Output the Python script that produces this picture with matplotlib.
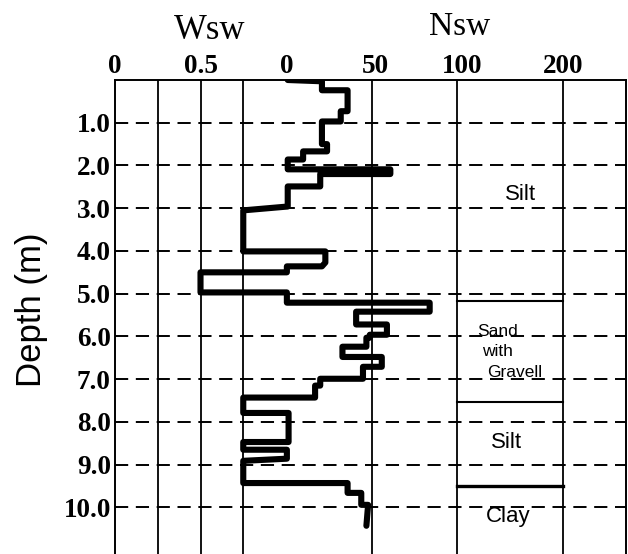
import matplotlib
matplotlib.use("Agg")
import matplotlib.pyplot as plt
import matplotlib.transforms as mtransforms

plt.rcParams["lines.scale_dashes"] = False

# sounding profile: Wsw (kN) while sinking under load, Nsw (half turns / 0.2 m) while turning
depth = [0.00, 0.03, 0.24, 0.24, 0.73, 0.73, 0.97, 0.97, 1.50, 1.50,
         1.67, 1.67, 1.86, 1.86, 2.09, 2.09, 2.20, 2.20, 2.49, 2.49,
         2.96, 3.05, 4.01, 4.01, 4.27, 4.36, 4.36, 4.50, 4.50, 4.97,
         4.97, 5.21, 5.21, 5.42, 5.42, 5.72, 5.72, 5.96, 5.96, 6.03,
         6.03, 6.24, 6.24, 6.48, 6.48, 6.71, 6.71, 6.99, 6.99, 7.15,
         7.15, 7.43, 7.43, 7.79, 7.79, 8.47, 8.47, 8.65, 8.65, 8.86,
         8.91, 9.43, 9.43, 9.66, 9.66, 9.94, 9.94, 10.43]
wsw = [1, 1, 1, 1, 1, 1, 1, 1, 1, 1,
       1, 1, 1, 1, 1, 1, 1, 1, 1, 1,
       1, 0.75, 0.75, 1, 1, 1, 1, 1, 0.5, 0.5,
       1, 1, 1, 1, 1, 1, 1, 1, 1, 1,
       1, 1, 1, 1, 1, 1, 1, 1, 1, 1,
       1, 1, 0.75, 0.75, 1, 1, 0.75, 0.75, 1, 1,
       0.75, 0.75, 1, 1, 1, 1, 1, 1]
nsw = [1, 21, 21, 36, 36, 32, 32, 21, 21, 24,
       24, 10, 10, 1, 1, 61, 61, 20, 20, 1,
       1, 0, 0, 23, 23, 21, 0.5, 0.5, 0, 0,
       0.5, 0.5, 84, 84, 41, 41, 59, 59, 49, 49,
       47, 47, 33, 33, 56, 56, 45, 45, 20, 20,
       17, 17, 0, 0, 1.5, 1.5, 0, 0, 0.5, 0.5,
       0, 0, 36, 36, 44, 44, 48, 47]

# soil column
layer_bounds = [5.18, 7.53, 9.51]
layer_names = ["Silt", "Sand", "with", "Gravell", "Silt", "Clay"]

wsw_ticks = [0, 0.5]
wsw_grid = [0.25, 0.5, 0.75]
nsw_ticks = [0, 50, 100, 200]
nsw_grid = [50, 100, 200]
depth_ticks = [1, 2, 3, 4, 5, 6, 7, 8, 9, 10]


def to_pos(w, n):
    # Wsw 0..1 takes the left part, Nsw grows to the right (compressed above 100)
    if n <= 100:
        return (w - 1) * 100 + n
    return 100 + (n - 100) * 0.62


fig = plt.figure(figsize=(6.28, 5.54), dpi=100)
ax = fig.add_axes([115 / 628, 0, 511 / 628, 474 / 554])

xpos = [to_pos(w, n) for w, n in zip(wsw, nsw)]

for w in wsw_grid:
    ax.axvline(to_pos(w, 0), color="black", lw=1.3)
for n in nsw_grid:
    ax.axvline(to_pos(1, n), color="black", lw=1.3)
for d in depth_ticks:
    ax.axhline(d, color="black", lw=1.4, linestyle=(0, (9.5, 5.5)))

ax.plot(xpos, depth, color="black", lw=4.4, solid_joinstyle="round",
        solid_capstyle="round")

x0, x1 = to_pos(1, 100), to_pos(1, 200)
for b in layer_bounds:
    ax.plot([x0, x1], [b, b], color="black", lw=2.4 if b > 9 else 1.5)

sans = "Liberation Sans"
ax.text(137, 2.68, layer_names[0], fontsize=16, family=sans, ha="center", va="center")
ax.text(112, 6.0, layer_names[1], fontsize=12.5, family=sans, ha="left", va="baseline")
ax.text(114.5, 6.45, layer_names[2], fontsize=12.5, family=sans, ha="left", va="baseline")
ax.text(117.5, 6.94, layer_names[3], fontsize=12.5, family=sans, ha="left", va="baseline")
ax.text(128.7, 8.49, layer_names[4], fontsize=16, family=sans, ha="center", va="center")
ax.text(129.8, 10.34, layer_names[5], fontsize=16, family=sans, ha="center", va="baseline")

ax.set_xlim(-100, 198.8)
ax.set_ylim(11.09, 0)

ax.xaxis.tick_top()
xt = [to_pos(w, 0) for w in wsw_ticks] + [to_pos(1, n) for n in nsw_ticks]
xl = ["0", "0.5", "0", "50", "100", "200"]
ax.set_xticks(xt)
ax.set_xticklabels(xl)
ax.set_yticks(depth_ticks)
ax.set_yticklabels([f"{d:.1f}" for d in depth_ticks])
ax.tick_params(axis="both", length=0, labelsize=19.5)
ax.tick_params(axis="x", pad=1)
ax.tick_params(axis="y", pad=3)
for lab in ax.get_xticklabels() + ax.get_yticklabels():
    lab.set_family("Liberation Serif")
    lab.set_fontweight("bold")

# the 50 and 100 labels sit a little right of their grid lines
shifts = [0, 0, 1, 4, 5, 0]
for lab, dx in zip(ax.get_xticklabels(), shifts):
    lab.set_transform(lab.get_transform() +
                      mtransforms.ScaledTranslation(dx / 100, 0, fig.dpi_scale_trans))

for s in ["top", "left", "right"]:
    ax.spines[s].set_linewidth(1.4)
ax.spines["bottom"].set_visible(False)

fig.text(210 / 628, 1 - 39 / 554, "Wsw", family="Liberation Serif", fontsize=25,
         ha="center", va="baseline")
fig.text(460 / 628, 1 - 35 / 554, "Nsw", family="Liberation Serif", fontsize=24,
         ha="center", va="baseline")
fig.text(32 / 628, 1 - 310 / 554, "Depth (m)", family=sans, fontsize=25,
         rotation=90, ha="center", va="center")

fig.savefig("out.png", dpi=100)
